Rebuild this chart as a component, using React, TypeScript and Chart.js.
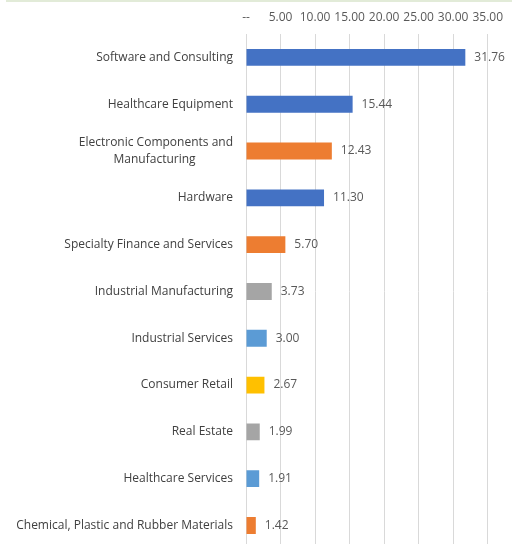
import React, { useEffect, useRef } from "react";
import { Chart, registerables } from "chart.js";

Chart.register(...registerables);

const categories: (string | string[])[] = [
  "Software and Consulting",
  "Healthcare Equipment",
  ["Electronic Components and", "Manufacturing            "],
  "Hardware",
  "Specialty Finance and Services",
  "Industrial Manufacturing",
  "Industrial Services",
  "Consumer Retail",
  "Real Estate",
  "Healthcare Services",
  "Chemical, Plastic and Rubber Materials",
];

const values = [31.76, 15.44, 12.43, 11.3, 5.7, 3.73, 3.0, 2.67, 1.99, 1.91, 1.42];

const barColors = [
  "#4472C4",
  "#4472C4",
  "#ED7D31",
  "#4472C4",
  "#ED7D31",
  "#A5A5A5",
  "#5B9BD5",
  "#FFC000",
  "#A5A5A5",
  "#5B9BD5",
  "#ED7D31",
];

const xTickValues = [0, 5, 10, 15, 20, 25, 30, 35];
const xTickLabels = ["--", "5.00", "10.00", "15.00", "20.00", "25.00", "30.00", "35.00"];

const FONT = "'Open Sans', 'Noto Sans', sans-serif";

const valueLabelPlugin = {
  id: "valueLabels",
  afterDatasetsDraw(chart: any) {
    const ctx = chart.ctx;
    const meta = chart.getDatasetMeta(0);
    ctx.save();
    ctx.font = `12px ${FONT}`;
    ctx.fillStyle = "#595959";
    ctx.textAlign = "left";
    ctx.textBaseline = "middle";
    meta.data.forEach((bar: any, i: number) => {
      ctx.fillText(values[i].toFixed(2), bar.x + 9, bar.y);
    });
    ctx.restore();
  },
};

export default function App() {
  const ref = useRef<HTMLCanvasElement | null>(null);

  useEffect(() => {
    document.body.style.margin = "0";
    document.documentElement.style.overflow = "hidden";
    if (!ref.current) return;
    const chart = new Chart(ref.current, {
      type: "bar",
      data: {
        labels: categories,
        datasets: [
          {
            data: values,
            backgroundColor: barColors,
            borderWidth: 0,
            categoryPercentage: 1,
            barPercentage: 0.36,
          },
        ],
      },
      options: {
        indexAxis: "y",
        animation: false,
        responsive: false,
        maintainAspectRatio: false,
        layout: { padding: { left: 0, right: 23, top: 0, bottom: 0 } },
        plugins: {
          legend: { display: false },
          tooltip: { enabled: false },
        },
        scales: {
          x: {
            position: "top",
            min: 0,
            max: 35,
            afterBuildTicks: (axis: any) => {
              axis.ticks = xTickValues.map((v) => ({ value: v }));
            },
            afterFit: (axis: any) => {
              axis.height = 34;
            },
            ticks: {
              autoSkip: false,
              maxRotation: 0,
              padding: 9,
              color: "#595959",
              font: { family: FONT, size: 12 },
              callback: (_v: any, i: number) => xTickLabels[i],
            },
            grid: { color: "#D9D9D9", lineWidth: 1, drawTicks: false },
            border: { display: false },
          },
          y: {
            afterFit: (axis: any) => {
              axis.width = 246;
            },
            ticks: {
              autoSkip: false,
              padding: 13,
              color: "#404040",
              font: { family: FONT, size: 12, lineHeight: 1.35 },
            },
            grid: { display: false, drawTicks: false },
            border: { display: true, color: "#D9D9D9", width: 1 },
          },
        },
      },
      plugins: [valueLabelPlugin],
    });
    return () => chart.destroy();
  }, []);

  return (
    <div style={{ position: "relative", width: 512, height: 544, overflow: "hidden", background: "#fff" }}>
      <div style={{ position: "absolute", left: 6, top: 0, width: 506, height: 2, background: "#E2EBD8" }} />
      <canvas ref={ref} width={512} height={570} style={{ display: "block" }} />
    </div>
  );
}
